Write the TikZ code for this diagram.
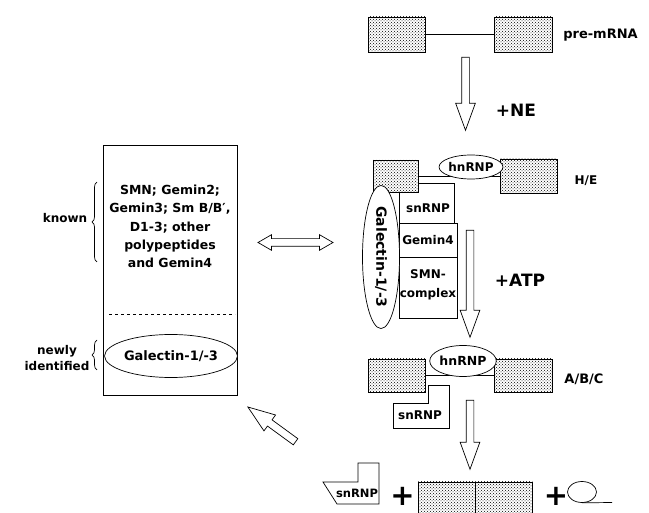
\documentclass[tikz,border=0pt]{standalone}
\usepackage{fontspec}
\setmainfont{DejaVu Sans}
\usetikzlibrary{shapes.geometric,shapes.arrows,patterns,decorations.pathreplacing}
\newcommand\bsize[2]{\bfseries\fontsize{#1}{#2}\selectfont}
\tikzset{
  exon/.style={draw,pattern=crosshatch dots,minimum width=57pt,minimum height=35pt,inner sep=0pt},
  lbl/.style={font=\bsize{12}{14},inner sep=0pt},
  big/.style={font=\bsize{17}{20},inner sep=0pt},
  blob/.style={draw,ellipse,fill=white,inner sep=0pt},
  cell/.style={draw,inner sep=0pt},
  plus/.style={font=\bsize{29}{29},inner sep=0pt},
  harrow/.style={draw,single arrow,inner xsep=0pt,inner ysep=3.5pt,single arrow head extend=6pt,single arrow tip angle=40,single arrow head indent=0pt},
  brc/.style={decorate,decoration={brace,amplitude=5pt}}
}
\begin{document}
\begin{tikzpicture}[x=1pt,y=-1pt,line width=0.7pt]
\useasboundingbox (0,0) rectangle (649,513);
\clip (0,0) rectangle (649,513);
% pre-mRNA
\node[exon] (pe1) at (396.5,34.5) {};
\node[exon,minimum width=58pt] (pe2) at (523,34.5) {};
\draw (pe1) -- (pe2);
\node[lbl,font=\bsize{13}{15}] (pre) at (600.5,35) {pre-mRNA};
\node[harrow,rotate=-90,minimum height=73pt] (a1) at (465.5,88.5) {};
\node[big] (ne) at (516,110) {+NE};
% H/E complex
\node[exon,minimum width=45pt,minimum height=32pt] (he1) at (395.5,176) {};
\node[exon,minimum height=34pt] (he2) at (528.5,176) {};
\draw (he1) -- (he2);
\node[blob,lbl,minimum width=51pt,minimum height=24pt] (hn1) at (471,167) {hnRNP};
\node[lbl] (he) at (586,181) {H/E};
\draw (399,192) -- (399,223) -- (454,223) -- (454,183) -- (418,183) -- (418,192);
\node[lbl] (sn1) at (428,208) {snRNP};
\node[cell,lbl,minimum width=58pt,minimum height=34pt] (gem) at (428,240) {Gemin4};
\node[cell,minimum width=58pt,minimum height=61pt] (smn) at (428,287.5) {};
\node[lbl,font=\bsize{12}{19},align=center] (smnt) at (428,284.5) {SMN-\\complex};
\node[blob,font=\bsize{14}{16},rotate=-90,minimum width=131pt,minimum height=37pt] (gal1) at (381,257) {Galectin-1/-3};
\node[harrow,rotate=-90,minimum height=107pt] (a2) at (470,278.5) {};
\node[big] (atp) at (520,280) {+ATP};
\node[draw,double arrow,inner xsep=0pt,inner ysep=3.5pt,double arrow head extend=4pt,double arrow tip angle=60,double arrow head indent=0pt,minimum height=75pt] (a3) at (295.5,242.5) {};
% SMN complex panel
\node[cell,minimum width=134pt,minimum height=250pt] (panel) at (170,270) {};
\draw[dashed] (109,314) -- (235,314);
\node[lbl,font=\bsize{12.5}{18.2},align=center] (list) at (170,226.5) {SMN; Gemin2;\\Gemin3; Sm B/B′,\\D1-3; other\\polypeptides\\and Gemin4};
\draw[brc] (97,262) -- (97,182);
\node[lbl] (known) at (65,218) {known};
\node[blob,lbl,font=\bsize{13}{15},minimum width=116pt,minimum height=43pt] (gal2) at (171,356) {Galectin-1/-3};
\draw[brc] (97,370) -- (97,340);
\node[lbl,font=\bsize{12}{16},align=center] (newly) at (57,358) {newly\\identified};
\node[harrow,rotate=143.9,minimum height=59pt] (a4) at (276,427.5) {};
% A/B/C complex
\node[exon,minimum height=33pt] (ab1) at (396.5,375.5) {};
\node[exon,minimum width=58pt,minimum height=33pt] (ab2) at (523,375.5) {};
\draw (ab1) -- (ab2);
\node[blob,lbl,font=\bsize{12.5}{14},minimum width=57pt,minimum height=31pt] (hn2) at (463,361) {hnRNP};
\node[lbl,font=\bsize{13}{15}] (abc) at (584,379) {A/B/C};
\draw (393,403) -- (393,428) -- (449,428) -- (449,385) -- (428,385) -- (428,403) -- cycle;
\node[lbl] (sn2) at (420,415) {snRNP};
\node[harrow,rotate=-90,minimum height=69pt] (a5) at (470,429.5) {};
% products
\draw (358,463) -- (379,463) -- (379,504) -- (337,504) -- (323,482) -- (358,482) -- cycle;
\node[lbl,font=\bsize{11.5}{13}] (sn3) at (357,493) {snRNP};
\node[plus] (p1) at (402.5,496) {+};
\node[exon,minimum height=38pt] (lig1) at (446.75,501) {};
\node[exon,minimum height=38pt] (lig2) at (503.75,501) {};
\node[plus] (p2) at (556,496) {+};
\node[draw,ellipse,minimum width=29pt,minimum height=21pt,inner sep=0pt] (lariat) at (582,492) {};
\coordinate (tail) at (612,502.5);
\draw (lariat.south) -- (tail);
\end{tikzpicture}
\end{document}
